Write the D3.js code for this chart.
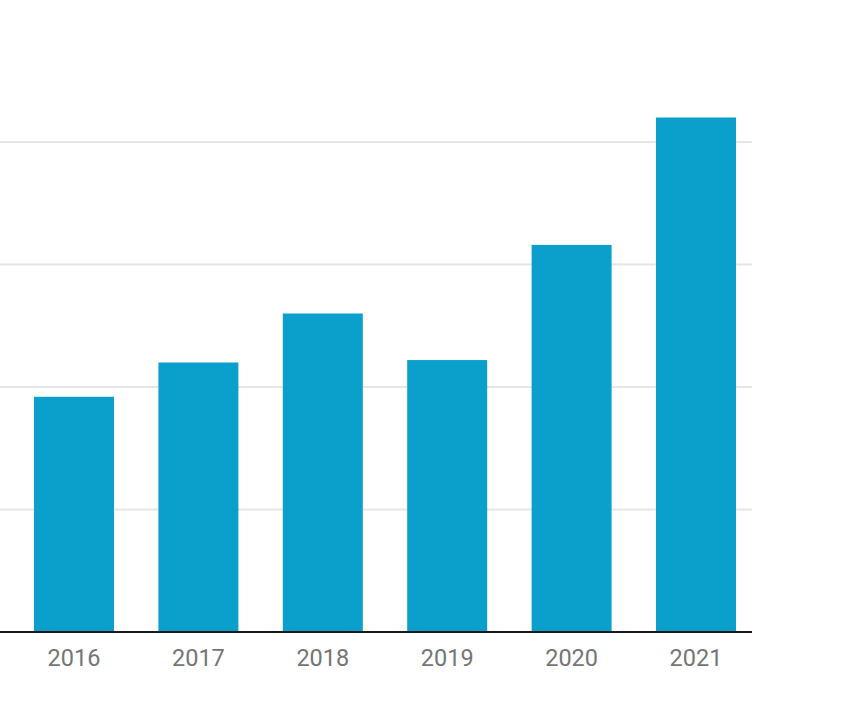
<!DOCTYPE html>
<html><head><meta charset="utf-8">
<script src="https://cdn.jsdelivr.net/npm/d3@7"></script>
<style>html,body{margin:0;padding:0;background:#fff;}</style>
</head><body>
<svg id="chart" width="848" height="710"></svg>
<script>
const categories = ["2016","2017","2018","2019","2020","2021"];
const values = [19.2, 22.0, 26.0, 22.2, 31.6, 42.0];
const gridTicks = [10, 20, 30, 40];

const svg = d3.select("#chart");
const baseY = 632, plotLeft = 0, plotRight = 752;
const y = d3.scaleLinear().domain([0, 40]).range([baseY, 142]);
const x = d3.scaleBand().domain(categories).range([34, 736]).paddingInner(0.357).paddingOuter(0);

svg.append("g").selectAll("line").data(gridTicks).join("line")
  .attr("x1", plotLeft).attr("x2", plotRight)
  .attr("y1", d => y(d)).attr("y2", d => y(d))
  .attr("stroke", "#e5e5e5").attr("stroke-width", 2);

svg.append("g").selectAll("rect").data(values).join("rect")
  .attr("x", (d,i) => x(categories[i]))
  .attr("width", x.bandwidth())
  .attr("y", d => y(d))
  .attr("height", d => baseY - y(d))
  .attr("fill", "#0ba0cc");

svg.append("line").attr("x1", plotLeft).attr("x2", plotRight)
  .attr("y1", baseY).attr("y2", baseY)
  .attr("stroke", "#1a1a1a").attr("stroke-width", 2);

svg.append("g").selectAll("text").data(categories).join("text")
  .attr("x", d => x(d) + x.bandwidth()/2)
  .attr("y", 666)
  .attr("text-anchor", "middle")
  .attr("font-family", "Roboto, sans-serif")
  .attr("font-size", 23.5)
  .attr("fill", "#757575")
  .text(d => d);
</script>
</body></html>
